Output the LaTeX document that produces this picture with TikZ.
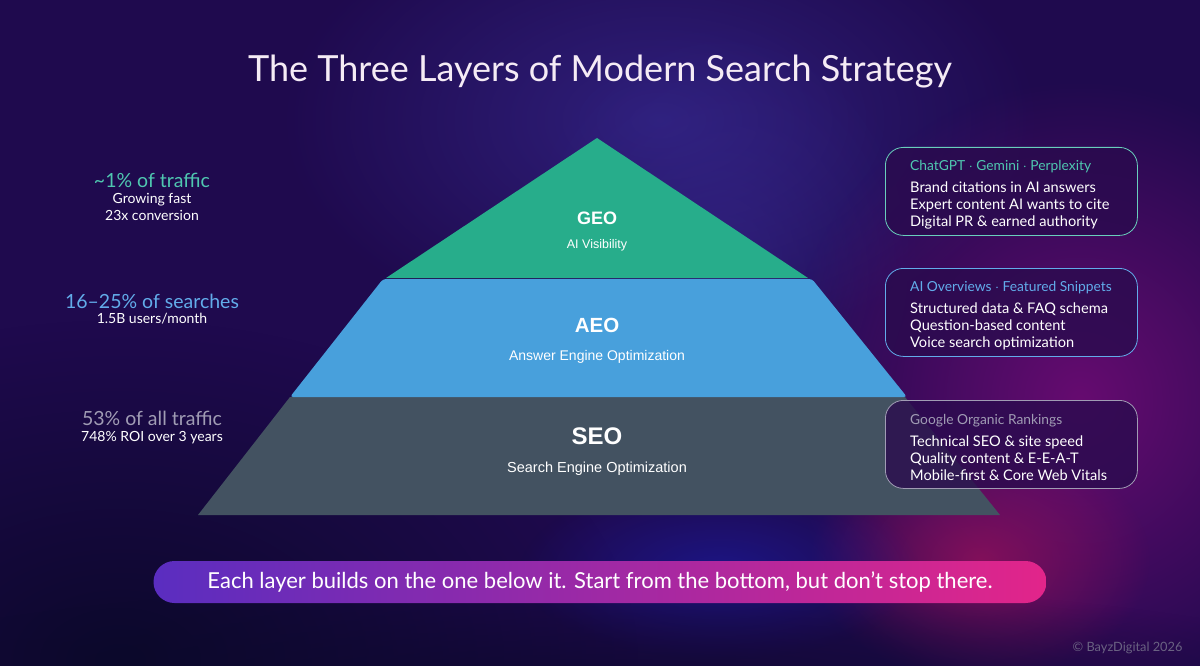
\documentclass[tikz,border=0pt]{standalone}
\usepackage{fontspec}
\setmainfont{Lato}
\newfontfamily\arialfont{Liberation Sans}
\usetikzlibrary{positioning,fadings,calc}
\definecolor{fondo}{HTML}{1F0A4E}
\definecolor{fondoosc}{HTML}{0A0828}
\definecolor{brillo}{HTML}{3A2E9A}
\definecolor{magenta}{HTML}{6E0C74}
\definecolor{rosado}{HTML}{A0125A}
\definecolor{azulnoche}{HTML}{1A1CA8}
\definecolor{verdegeo}{HTML}{27AD8B}
\definecolor{azulaeo}{HTML}{48A0DC}
\definecolor{grisseo}{HTML}{435261}
\definecolor{textogeo}{HTML}{4FC7B0}
\definecolor{textoaeo}{HTML}{62ACEA}
\definecolor{textoseo}{HTML}{A09CB4}
\definecolor{cajafondo}{HTML}{2A0B4E}
\definecolor{barraizq}{HTML}{5A2DC0}
\definecolor{barrader}{HTML}{E2258A}
\definecolor{gristenue}{HTML}{6A6282}
\tikzfading[name=suave, inner color=transparent!0, outer color=transparent!100]

\begin{document}
\begin{tikzpicture}[x=1pt, y=-1pt,
  capa/.style={text=white},
  cifra/.style={font=\fontsize{19.5}{22}\selectfont, inner sep=0pt},
  detalle/.style={font=\fontsize{14}{16}\selectfont, text=white, inner sep=0pt},
  caja/.style={rounded corners=18pt, fill=cajafondo, fill opacity=0.8,
    line width=0.8pt, minimum width=252pt, minimum height=88pt,
    anchor=north west},
  lista/.style={align=left, anchor=west, inner sep=0pt, text=white,
    font=\fontsize{14.6}{17}\selectfont},
  glow/.style={path fading=suave},
]
  \useasboundingbox (0,0) rectangle (1200,666);
  % Fondo
  \fill[fondo] (0,0) rectangle (1200,666);
  \fill[fondoosc, opacity=0.9, glow] (120,660) ellipse [x radius=520, y radius=340];
  \fill[brillo, opacity=0.6, glow] (660,120) ellipse [x radius=380, y radius=230];
  \fill[brillo, opacity=0.45, glow] (720,260) ellipse [x radius=200, y radius=240];
  \fill[magenta, opacity=0.9, glow] (1080,400) ellipse [x radius=300, y radius=320];
  \fill[rosado, opacity=0.7, glow] (980,560) ellipse [x radius=170, y radius=120];
  \fill[azulnoche, opacity=0.6, glow] (720,570) ellipse [x radius=200, y radius=90];
  \fill[fondoosc, opacity=0.7, glow] (600,690) ellipse [x radius=800, y radius=110];

  % Titulo
  \node[font=\fontsize{36}{40}\selectfont, text=white!92!violet] (titulo)
    at (600,72) {The Three Layers of Modern Search Strategy};

  % Piramide
  \fill[grisseo] (290,397) -- (905,397) -- (1000,515) -- (198,515) -- cycle;
  \fill[azulaeo, rounded corners=3pt] (383,279) -- (812,279) -- (907,397)
    -- (290,397) -- cycle;
  \fill[verdegeo] (597,138) -- (808,278) -- (386,278) -- cycle;
  \node[capa, font=\arialfont\bfseries\fontsize{18}{20}\selectfont] (geo) at (597,218) {GEO};
  \node[capa, font=\arialfont\fontsize{12.5}{14}\selectfont] (geosub) at (597,245) {AI Visibility};
  \node[capa, font=\arialfont\bfseries\fontsize{20.5}{22}\selectfont] (aeo) at (597,325) {AEO};
  \node[capa, font=\arialfont\fontsize{14}{16}\selectfont] (aeosub) at (597,357) {Answer Engine Optimization};
  \node[capa, font=\arialfont\bfseries\fontsize{24}{26}\selectfont] (seo) at (597,436) {SEO};
  \node[capa, font=\arialfont\fontsize{14.5}{16}\selectfont] (seosub) at (597,469) {Search Engine Optimization};

  % Cifras a la izquierda
  \node[cifra, text=textogeo] (cgeo) at (152,180) {\textasciitilde 1\% of traffic};
  \node[detalle, below=6pt of cgeo] (cgeo1) {Growing fast};
  \node[detalle, below=3pt of cgeo1] (cgeo2) {23x conversion};
  \node[cifra, text=textoaeo] (caeo) at (152,301) {16--25\% of searches};
  \node[detalle, below=5pt of caeo] (caeo1) {1.5B users/month};
  \node[cifra, text=textoseo] (cseo) at (152,418) {53\% of all traffic};
  \node[detalle, below=6pt of cseo] (cseo1) {748\% ROI over 3 years};

  % Cajas a la derecha
  \node[caja, draw=textogeo!85!white] (bgeo) at (885,147) {};
  \node[caja, draw=textoaeo] (baeo) at (885,268) {};
  \node[caja, draw=textoseo] (bseo) at (885,400) {};
  \node[lista] (lgeo) at ([xshift=25pt,yshift=-3.5pt]bgeo.west)
    {{\fontsize{13.8}{15}\selectfont\color{textogeo}ChatGPT $\cdot$ Gemini $\cdot$ Perplexity}\\[5pt]
     Brand citations in AI answers\\Expert content AI wants to cite\\Digital PR \& earned authority};
  \node[lista] (laeo) at ([xshift=25pt,yshift=-3.5pt]baeo.west)
    {{\fontsize{13.8}{15}\selectfont\color{textoaeo}AI Overviews $\cdot$ Featured Snippets}\\[5pt]
     Structured data \& FAQ schema\\Question-based content\\Voice search optimization};
  \node[lista] (lseo) at ([xshift=25pt,yshift=-3.5pt]bseo.west)
    {{\fontsize{13.8}{15}\selectfont\color{textoseo}Google Organic Rankings}\\[5pt]
     Technical SEO \& site speed\\Quality content \& E-E-A-T\\Mobile-first \& Core Web Vitals};

  % Lema
  \node[rounded corners=21pt, left color=barraizq, right color=barrader,
    minimum width=893pt, minimum height=42pt, text=white,
    font=\fontsize{22}{24}\selectfont] (lema) at (600,582)
    {Each layer builds on the one below it. Start from the bottom, but don't stop there.};
  \node[font=\fontsize{12.8}{14}\selectfont, text=gristenue, anchor=east] (firma)
    at (1186,648) {\textcopyright{} BayzDigital 2026};
\end{tikzpicture}
\end{document}
